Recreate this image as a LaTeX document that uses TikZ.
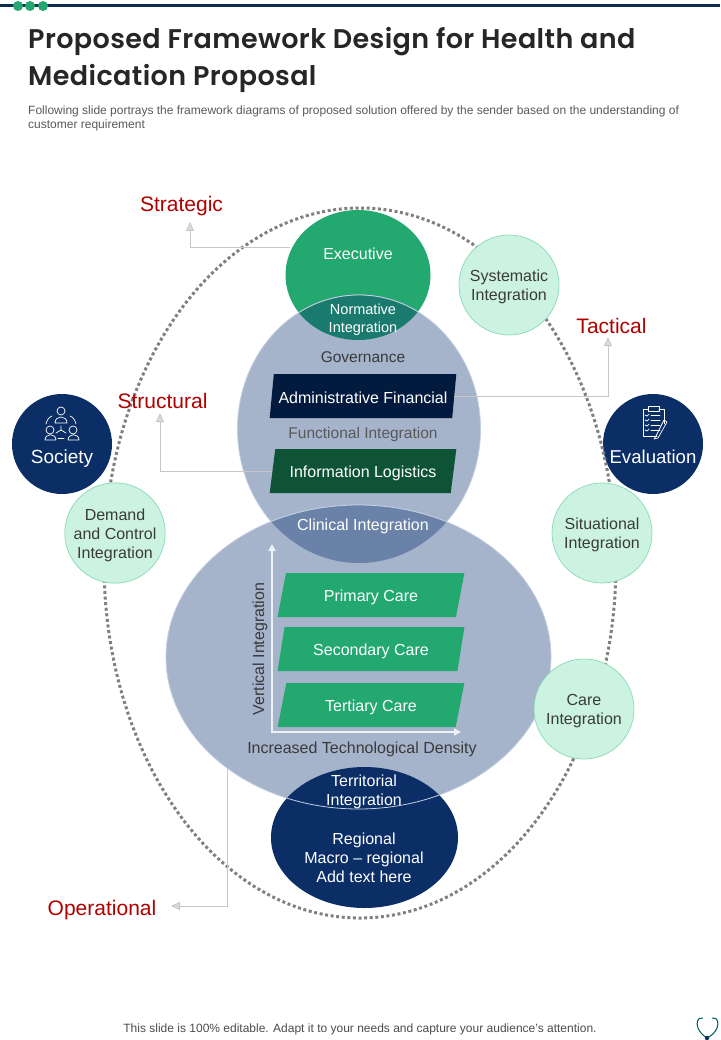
\documentclass[tikz,border=0pt]{standalone}
\usepackage{fontspec}
\setmainfont{Liberation Sans}
\newfontfamily\titlefont{Poppins}[UprightFont=* SemiBold, LetterSpace=1.5]
\usepackage{xcolor}
\usetikzlibrary{shapes.geometric, arrows.meta}

\definecolor{navy}{HTML}{0B2E66}
\definecolor{topbar}{HTML}{0B2E50}
\definecolor{midgreen}{HTML}{23A86F}
\definecolor{palemint}{HTML}{CCF3E2}
\definecolor{mintline}{HTML}{86DAB5}
\definecolor{paleblue}{HTML}{A5B3CB}
\definecolor{bluerim}{HTML}{C3CFE2}
\definecolor{labelred}{HTML}{B00000}
\definecolor{ink}{HTML}{3A3A3A}
\definecolor{darkteal}{HTML}{1A7A6E}
\definecolor{duskblue}{HTML}{6A82A8}
\definecolor{nightblue}{HTML}{031A3F}
\definecolor{forest}{HTML}{0F5336}

\tikzset{
    body/.style={font=\fontsize{16}{19}\selectfont, align=center, text=ink},
    onfill/.style={font=\fontsize{16}{19}\selectfont, align=center, text=white},
    level/.style={font=\fontsize{21}{25}\selectfont, text=labelred},
    band/.style={trapezium, trapezium left angle=76, trapezium right angle=104,
        trapezium stretches=true, minimum width=187pt, minimum height=44pt, inner sep=0pt,
        font=\fontsize{16}{19}\selectfont, text=white},
    minty/.style={circle, minimum size=100pt, inner sep=0pt, fill=palemint, draw=mintline,
        line width=0.7pt, font=\fontsize{16}{19}\selectfont, align=center, text=ink},
    leader/.style={draw=black!22, line width=0.8pt, -{Triangle[length=9pt, width=8pt, fill=black!15]}},
    axisline/.style={draw=white!80!paleblue, line width=2pt, {Triangle[length=7pt, width=7pt]}-{Triangle[length=7pt, width=7pt]}},
    icon/.style={draw=white, line width=0.7pt, line cap=round, line join=round}
}

\def\execshape{(358,275) ellipse (72.5 and 65)}
\def\govshape{(359,429) ellipse (121.5 and 134)}
\def\careshape{(358.5,657) ellipse (192.5 and 152)}
\def\lowertext{\rule{0pt}{15.5pt}}

\begin{document}
\begin{tikzpicture}[x=1pt, y=-1pt]
    \useasboundingbox (0, 0) rectangle (720, 1040);

    % top rule
    \draw[topbar, line width=3pt] (0, 6) -- (720, 6);
    \foreach \dotx in {18, 30, 43} {
        \fill[midgreen] (\dotx, 6) circle (5);
    }

    % heading
    \node[anchor=west, inner sep=0pt, text=black!85] (titleone) at (28, 42) {\titlefont\fontsize{27}{34}\selectfont Proposed Framework Design for Health and};
    \node[anchor=west, inner sep=0pt, text=black!85] (titletwo) at (28, 78) {\titlefont\fontsize{27}{34}\selectfont Medication Proposal};
    \node[anchor=west, inner sep=0pt, text=black!65, font=\fontsize{12}{14}\selectfont] (subone) at (28, 111) {Following slide portrays the framework diagrams of proposed solution offered by the sender based on the understanding of};
    \node[anchor=west, inner sep=0pt, text=black!65, font=\fontsize{12}{14}\selectfont] (subtwo) at (28, 125) {customer requirement};

    % side circles under the dotted ring
    \node[circle, fill=navy, minimum size=100pt, inner sep=0pt] (societyback) at (62, 444) {};
    \node[circle, fill=navy, minimum size=100pt, inner sep=0pt] (evaluationback) at (653, 444) {};
    \draw[black!50, line width=3pt, dash pattern=on 3pt off 2.6pt] (360, 563) ellipse (256 and 355);

    % main ellipses
    \fill[midgreen] \execshape;
    \filldraw[fill=paleblue, draw=bluerim, line width=0.8pt] \govshape;
    \filldraw[fill=paleblue, draw=bluerim, line width=0.8pt] \careshape;
    \begin{scope}
        \clip \execshape;
        \filldraw[fill=darkteal, draw=bluerim, line width=0.8pt] \govshape;
    \end{scope}
    \begin{scope}
        \clip \govshape;
        \filldraw[fill=duskblue, draw=bluerim, line width=0.8pt] \careshape;
    \end{scope}
    \fill[navy] (364.5, 837.5) ellipse (93.5 and 70.5);
    \begin{scope}
        \clip (364.5, 837.5) ellipse (93.5 and 70.5);
        \draw[bluerim, line width=0.8pt] \careshape;
    \end{scope}

    % ellipse texts
    \node[onfill] (executive) at (358, 254) {Executive};
    \node[onfill, font=\fontsize{14.5}{18}\selectfont] (normative) at (363, 319.5) {Normative\\Integration};
    \node[body, font=\fontsize{15.5}{19}\selectfont] (governance) at (363, 357) {Governance};
    \node[band, fill=nightblue] (adminbox) at (363, 396) {\lowertext Administrative Financial};
    \node[body, text=black!65, font=\fontsize{15.5}{19}\selectfont] (functional) at (363, 434) {Functional Integration};
    \node[band, fill=forest] (infobox) at (363, 471) {\lowertext Information Logistics};
    \node[onfill] (clinical) at (363, 526) {Clinical Integration};

    \node[band, fill=midgreen] (primary) at (371, 595) {\lowertext Primary Care};
    \node[band, fill=midgreen] (secondary) at (371, 649) {\lowertext Secondary Care};
    \node[band, fill=midgreen] (tertiary) at (371, 705) {\lowertext Tertiary Care};

    \coordinate (axistop) at (272, 544);
    \coordinate (axiscorner) at (272, 732);
    \coordinate (axisend) at (461, 732);
    \draw[axisline] (axistop) -- (axiscorner) -- (axisend);
    \node[body, rotate=90] (vertical) at (260, 649) {Vertical Integration};
    \node[body] (density) at (362, 749) {Increased Technological Density};

    \node[onfill] (territorial) at (364, 792) {Territorial\\Integration};
    \node[onfill] (regional) at (364, 858) {Regional\\Macro -- regional\\Add text here};

    % mint circles
    \node[minty] (systematic) at (509, 285) {\lowertext Systematic\\Integration};
    \node[minty] (demand) at (115, 533) {\lowertext Demand\\and Control\\Integration};
    \node[minty] (situational) at (602, 533) {\lowertext Situational\\Integration};
    \node[minty] (careint) at (584, 709) {\lowertext Care\\Integration};

    % side labels
    \node[onfill, font=\fontsize{19}{22}\selectfont] (society) at (62, 458.5) {Society};
    \node[onfill, font=\fontsize{18.6}{22}\selectfont] (evaluation) at (653, 457) {Evaluation};

    % people icon
    \draw[icon] (61, 411) circle (4);
    \draw[icon] (55, 423) .. controls (55, 415) and (67, 415) .. (67, 423) -- cycle;
    \draw[icon] (50, 430) circle (4);
    \draw[icon] (45, 440) .. controls (45, 433) and (56, 433) .. (56, 440) -- cycle;
    \draw[icon] (73, 430) circle (4);
    \draw[icon] (68, 440) .. controls (68, 433) and (79, 433) .. (79, 440) -- cycle;
    \draw[icon] (61, 426) -- (61, 430) -- (56, 433);
    \draw[icon] (61, 430) -- (66, 433);
    \draw[icon] (58, 438) -- (64, 438);
    \draw[icon] (46, 424) .. controls (47, 420) and (49, 417) .. (52, 416);
    \draw[icon] (76, 424) .. controls (75, 420) and (73, 417) .. (70, 416);

    % clipboard icon
    \draw[icon] (659, 409) -- (664, 409) -- (664, 424);
    \draw[icon] (648, 409) -- (643, 409) -- (643, 436) -- (657, 436);
    \draw[icon] (648, 406) rectangle (659, 411);
    \foreach \rowy in {415, 420, 425, 430} {
        \draw[icon] (645, \rowy) -- (647, \rowy + 1) -- (649, \rowy - 1);
        \draw[icon] (651, \rowy) -- (660, \rowy);
    }
    \draw[icon] (656, 436) -- (654, 439) -- (658, 438) -- (667, 422) -- (664, 420) -- cycle;

    % level labels and their leaders
    \node[level] (strategic) at (181.5, 206) {Strategic};
    \node[level] (tactical) at (611.5, 326) {Tactical};
    \node[level] (structural) at (162.5, 401) {Structural};
    \node[level] (operational) at (102, 910) {Operational};

    \coordinate (execleft) at (290, 247);
    \coordinate (strategictip) at (190, 222);
    \coordinate (tacticaltip) at (608, 337);
    \coordinate (structuraltip) at (160, 413);
    \coordinate (careleft) at (227, 768);
    \coordinate (operationaltip) at (171, 906);
    \draw[leader] (execleft) -| (strategictip);
    \draw[leader] (adminbox.east) -| (tacticaltip);
    \draw[leader] (infobox.west) -| (structuraltip);
    \draw[leader] (careleft) |- (operationaltip);

    % footer
    \node[text=black!70, font=\fontsize{12}{14}\selectfont] (footer) at (360, 1029) {This slide is 100\% editable. Adapt it to your needs and capture your audience's attention.};
    \draw[teal!70!black, line width=1pt] (703, 1018) .. controls (697, 1017) and (696, 1023) .. (698, 1028) .. controls (700, 1033) and (704, 1036) .. (707, 1038) .. controls (711, 1036) and (715, 1033) .. (717, 1028) .. controls (719, 1023) and (718, 1017) .. (712, 1018);
    \fill[navy] (707, 1038) circle (2.2);
\end{tikzpicture}
\end{document}
